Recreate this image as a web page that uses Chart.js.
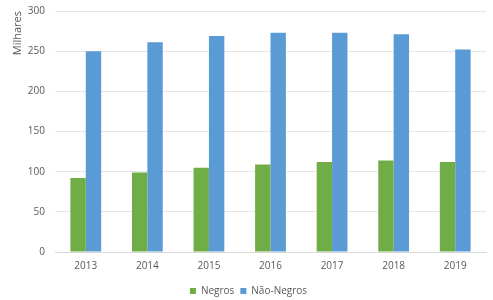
<!DOCTYPE html>
<html>
<head>
<meta charset="utf-8">
<script src="https://cdn.jsdelivr.net/npm/chart.js@4/dist/chart.umd.min.js"></script>
<style>
  html, body { margin: 0; padding: 0; background: #fff; }
  #wrap { width: 493px; height: 300px; }
</style>
</head>
<body>
<div id="wrap"><canvas id="chart" width="493" height="300"></canvas></div>
<script>
const years = ['2013', '2014', '2015', '2016', '2017', '2018', '2019'];
const negros = [92, 99, 105, 109, 112, 114, 112];
const naoNegros = [250, 261, 269, 273, 273, 271, 252];
const yTicks = [0, 50, 100, 150, 200, 250, 300];

const ctx = document.getElementById('chart').getContext('2d');
Chart.defaults.font.family = "'Open Sans', 'Liberation Sans', sans-serif";
Chart.defaults.color = '#595959';

new Chart(ctx, {
    type: 'bar',
    data: {
        labels: years,
        datasets: [
            {
                label: 'Negros',
                data: negros,
                backgroundColor: '#70AD47',
                categoryPercentage: 0.5,
                barPercentage: 1.0
            },
            {
                label: 'Não-Negros',
                data: naoNegros,
                backgroundColor: '#5B9BD5',
                categoryPercentage: 0.5,
                barPercentage: 1.0
            }
        ]
    },
    options: {
        responsive: false,
        animation: false,
        layout: { padding: { top: 11, right: 7, left: 11, bottom: -6 } },
        plugins: {
            legend: {
                position: 'bottom',
                labels: {
                    boxWidth: 6,
                    boxHeight: 6,
                    padding: 6,
                    font: { size: 10 }
                }
            },
            tooltip: { enabled: false }
        },
        scales: {
            x: {
                grid: { display: false, drawTicks: false },
                border: { color: '#d9d9d9' },
                ticks: { padding: 8, font: { size: 10 } }
            },
            y: {
                min: 0,
                max: 300,
                afterBuildTicks: axis => { axis.ticks = yTicks.map(v => ({ value: v })); },
                afterFit: axis => {
                    axis.width = 44;
                    axis.paddingTop = 0;
                },
                grid: { color: '#e6e6e6', drawTicks: false },
                border: { display: false },
                ticks: { padding: 10, font: { size: 10 } },
                title: {
                    display: true,
                    text: 'Milhares',
                    align: 'end',
                    font: { size: 11 },
                    padding: { top: 0, bottom: 3 }
                }
            }
        }
    }
});
</script>
</body>
</html>
